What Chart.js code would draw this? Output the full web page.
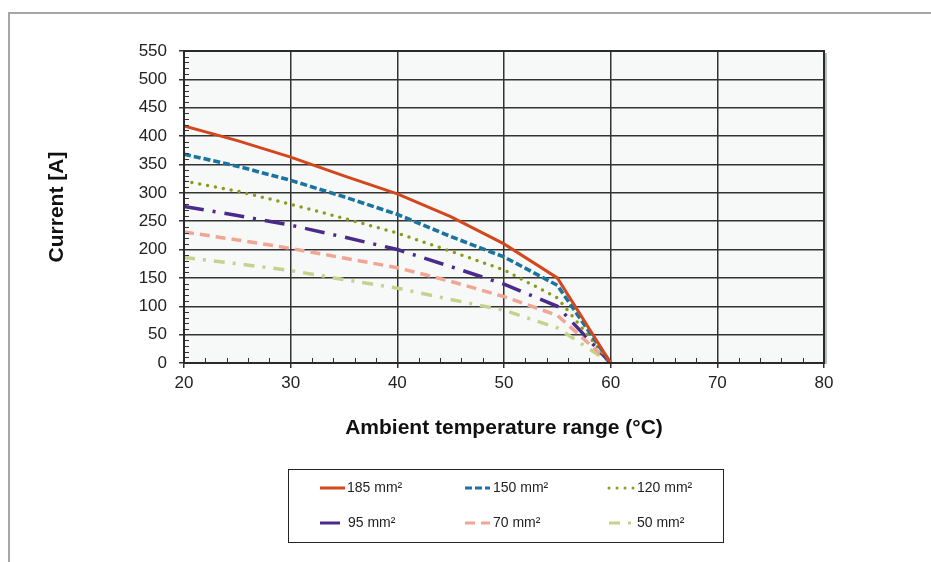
<!DOCTYPE html>
<html>
<head>
<meta charset="utf-8">
<script src="https://cdn.jsdelivr.net/npm/chart.js@4.4.0/dist/chart.umd.min.js"></script>
<style>
  html, body { margin: 0; padding: 0; background: #fff; }
</style>
</head>
<body>
<canvas id="chart" width="931" height="562"></canvas>
<script>
// ambient temperature (°C) and current (A) per cable cross-section
const temps = [20, 25, 30, 35, 40, 45, 50, 55, 60];
const sizeLabels = ['185 mm²', '150 mm²', '120 mm²', '95 mm²', '70 mm²', '50 mm²'];
const current185 = [418, 392, 363, 330, 298, 258, 210, 150, 0];
const current150 = [368, 347, 322, 293, 262, 223, 187, 137, 0];
const current120 = [321, 303, 280, 255, 229, 197, 164, 115, 0];
const current95 = [276, 260, 243, 222, 200, 170, 139, 100, 0];
const current70 = [231, 217, 202, 185, 168, 144, 117, 84, 0];
const current50 = [186, 175, 163, 147, 132, 112, 93, 62, 0];
const xTickValues = [20, 30, 40, 50, 60, 70, 80];
const yTickValues = [0, 50, 100, 150, 200, 250, 300, 350, 400, 450, 500, 550];

const FONT = '"Liberation Sans", Arial, Helvetica, sans-serif';
Chart.defaults.font.family = FONT;
Chart.defaults.color = '#222';

function pts(values) {
  return temps.map((t, i) => ({ x: t, y: values[i] }));
}

const styles = [
  { color: '#d4471c', dash: [], width: 3 },
  { color: '#1b73a0', dash: [7, 3], width: 3.6, hollow: true },
  { color: '#8c9a1c', dash: [0, 8], width: 3.5, cap: 'round' },
  { color: '#4a2a8a', dash: [20, 9, 3, 9], width: 3.5 },
  { color: '#f0a692', dash: [10, 6], width: 3.5 },
  { color: '#c6d18e', dash: [11, 8, 3, 8], width: 3.5 }
];
const series = [current185, current150, current120, current95, current70, current50];

const datasets = series.map((vals, i) => ({
  label: sizeLabels[i],
  data: pts(vals),
  borderColor: styles[i].color,
  borderWidth: styles[i].width,
  borderDash: styles[i].dash,
  borderCapStyle: styles[i].cap || 'butt',
  pointRadius: 0,
  tension: 0,
  fill: false
}));
// light core on top of the 150 mm² dashes gives the hollow look
datasets.push({
  label: '',
  data: pts(current150),
  borderColor: '#f4f8fa',
  borderWidth: 1.6,
  borderDash: [7, 3],
  pointRadius: 0,
  tension: 0,
  fill: false
});

const decor = {
  id: 'decor',
  beforeDraw(chart) {
    const ctx = chart.ctx;
    const a = chart.chartArea;
    ctx.save();
    // outer frame
    ctx.strokeStyle = '#a6a6a6';
    ctx.lineWidth = 2;
    ctx.beginPath();
    ctx.moveTo(9, 562);
    ctx.lineTo(9, 13);
    ctx.lineTo(931, 13);
    ctx.stroke();
    // plot background
    ctx.fillStyle = '#f7f9f9';
    ctx.fillRect(a.left, a.top, a.right - a.left, a.bottom - a.top);
    ctx.restore();
  },
  afterDatasetsDraw(chart) {
    const ctx = chart.ctx;
    const a = chart.chartArea;
    const xs = chart.scales.x, ys = chart.scales.y;
    ctx.save();
    // minor ticks, inside the plot
    ctx.strokeStyle = '#333';
    ctx.lineWidth = 1;
    ctx.beginPath();
    for (let v = 0; v <= 550; v += 10) {
      if (v % 50 === 0) continue;
      const y = Math.round(ys.getPixelForValue(v)) + 0.5;
      ctx.moveTo(a.left, y);
      ctx.lineTo(a.left + 5, y);
    }
    for (let v = 20; v <= 80; v += 2) {
      if (v % 10 === 0) continue;
      const x = Math.round(xs.getPixelForValue(v)) + 0.5;
      ctx.moveTo(x, a.bottom);
      ctx.lineTo(x, a.bottom - 5);
    }
    ctx.stroke();
    // plot frame with shadow on the right
    ctx.strokeStyle = '#bbb';
    ctx.lineWidth = 2;
    ctx.beginPath();
    ctx.moveTo(a.right + 2, a.top + 2);
    ctx.lineTo(a.right + 2, a.bottom + 1);
    ctx.stroke();
    ctx.strokeStyle = '#2a2a2a';
    ctx.lineWidth = 2;
    ctx.strokeRect(a.left, a.top, a.right - a.left, a.bottom - a.top);
    ctx.restore();
  },
  afterDraw(chart) {
    const ctx = chart.ctx;
    ctx.save();
    // legend box
    ctx.strokeStyle = '#222';
    ctx.lineWidth = 1;
    ctx.strokeRect(288.5, 469.5, 435, 73);
    const colMarker = [320, 465, 609];
    const colText = [347, 493, 637];
    const rowY = [488, 523];
    ctx.font = '14px ' + FONT;
    ctx.textBaseline = 'middle';
    ctx.fillStyle = '#222';
    sizeLabels.forEach((label, i) => {
      const st = styles[i];
      const r = Math.floor(i / 3), c = i % 3;
      const y = rowY[r];
      const x1 = colMarker[c], x2 = colMarker[c] + 25;
      ctx.beginPath();
      ctx.setLineDash(st.dash);
      ctx.lineCap = st.cap || 'butt';
      ctx.strokeStyle = st.color;
      ctx.lineWidth = 3;
      ctx.moveTo(x1, y);
      ctx.lineTo(x2, y);
      ctx.stroke();
      ctx.setLineDash([]);
      ctx.fillText(label, colText[c] + (i === 3 ? 1 : 0), y);
    });
    ctx.restore();
  }
};

const chart = new Chart(document.getElementById('chart').getContext('2d'), {
  type: 'line',
  data: { datasets },
  options: {
    responsive: false,
    animation: false,
    devicePixelRatio: 1,
    layout: { padding: { left: 40, top: 51, right: 107, bottom: 100 } },
    plugins: {
      legend: { display: false },
      tooltip: { enabled: false }
    },
    scales: {
      x: {
        type: 'linear',
        min: 20,
        max: 80,
        afterBuildTicks: (s) => { s.ticks = xTickValues.map(v => ({ value: v })); },
        afterFit: (s) => { s.height = 99; },
        grid: { color: '#333', lineWidth: 1.5, tickLength: 5, drawTicks: true },
        border: { display: false },
        ticks: { font: { size: 17 }, color: '#222', padding: 5, maxRotation: 0 },
        title: {
          display: true,
          text: 'Ambient temperature range (°C)',
          font: { size: 21, weight: 'bold' },
          color: '#111',
          padding: { top: 0, bottom: 21 }
        }
      },
      y: {
        type: 'linear',
        min: 0,
        max: 550,
        afterBuildTicks: (s) => { s.ticks = yTickValues.map(v => ({ value: v })); },
        afterFit: (s) => { s.width = 144; },
        grid: { color: '#333', lineWidth: 1.5, tickLength: 5, drawTicks: true },
        border: { display: false },
        ticks: { font: { size: 17 }, color: '#222', padding: 12 },
        title: {
          display: true,
          text: 'Current [A]',
          font: { size: 21, weight: 'bold' },
          color: '#111',
          padding: { top: 5, bottom: 0 }
        }
      }
    }
  },
  plugins: [decor]
});
</script>
</body>
</html>
